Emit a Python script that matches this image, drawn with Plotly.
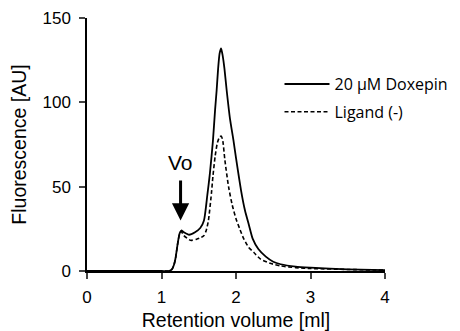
import plotly.graph_objects as go

# Retention volume (ml) and fluorescence (AU)
doxepin_x = [0, 0.5, 1.0, 1.1, 1.14, 1.17, 1.19, 1.22, 1.245, 1.265, 1.3, 1.37, 1.45, 1.52, 1.57,
             1.615, 1.65, 1.69, 1.72, 1.74, 1.76, 1.78, 1.8, 1.82, 1.845, 1.875, 1.92, 1.965,
             2.0, 2.067, 2.12, 2.175, 2.225, 2.3, 2.4, 2.5, 2.6, 2.8, 3.0, 3.5, 4.0]
doxepin_y = [0, 0, 0, 0, 1, 4, 8, 17, 22.5, 24, 23, 21.5, 23, 25.5, 30,
             45, 58, 77, 96, 107, 120, 129, 132, 128, 120, 107, 90, 77.7,
             67, 48, 36, 27, 19, 13, 8.5, 5.5, 4, 2.6, 2, 1, 0.5]

ligand_x = [0, 0.5, 1.0, 1.1, 1.14, 1.17, 1.19, 1.22, 1.245, 1.265, 1.3, 1.39, 1.47, 1.53, 1.57,
            1.6, 1.63, 1.67, 1.69, 1.72, 1.75, 1.78, 1.8, 1.82, 1.85, 1.9, 1.95, 2.0, 2.05,
            2.1, 2.17, 2.24, 2.33, 2.47, 2.6, 2.8, 3.0, 3.5, 4.0]
ligand_y = [0, 0, 0, 0, 1, 4, 8, 17, 22.5, 23.5, 21, 18.2, 18.8, 19.8, 21,
            24, 30, 46, 56, 68, 76, 79.5, 80, 78, 66, 50, 39, 31, 25,
            19.5, 14, 11, 7, 4.4, 3, 2, 1.5, 0.9, 0.5]

series_names = ["20 \u03bcM Doxepin", "Ligand (-)"]
x_ticks = [0, 1, 2, 3, 4]
y_ticks = [0, 50, 100, 150]

font_main = "Liberation Sans, Arial, sans-serif"

fig = go.Figure()
fig.add_trace(go.Scatter(x=doxepin_x, y=doxepin_y, mode="lines", name=series_names[0],
                         legendgroup="a",
                         line=dict(color="black", width=1.8, shape="spline", smoothing=0.6)))
fig.add_trace(go.Scatter(x=ligand_x, y=ligand_y, mode="lines", name=series_names[1],
                         legendgroup="b",
                         line=dict(color="black", width=1.6, dash="4px,2.5px",
                                   shape="spline", smoothing=0.6)))

fig.add_annotation(x=1.256, y=30, xref="x", yref="y", text="Vo", showarrow=True,
                   ax=0, ay=-44, yanchor="bottom", arrowhead=2, arrowsize=1.15,
                   arrowwidth=3, arrowcolor="black", standoff=0, startstandoff=4,
                   font=dict(family=font_main, size=21, color="black"))

FIG_W = 480
fig.update_layout(
    width=FIG_W, height=323,
    margin=dict(l=79, r=FIG_W - 377, t=10, b=60),
    paper_bgcolor="white", plot_bgcolor="white",
    font=dict(family=font_main, size=17, color="black"),
    showlegend=True,
    legend=dict(x=0.646, y=0.806, xref="paper", yref="paper",
                xanchor="left", yanchor="top", itemwidth=45,
                traceorder="grouped", tracegroupgap=4,
                font=dict(family="Open Sans, Liberation Sans, sans-serif", size=16, color="black"),
                bgcolor="rgba(0,0,0,0)"),
    xaxis=dict(range=[0, 4], tickvals=x_ticks, ticks="outside", ticklen=6, tickwidth=1.5,
               showline=True, linecolor="black", linewidth=1.5, showgrid=False, zeroline=False,
               automargin=False, ticklabelstandoff=4,
               title=dict(text="Retention volume [ml]", font=dict(size=19.5), standoff=17),
               tickfont=dict(size=17)),
    yaxis=dict(range=[0, 150], tickvals=y_ticks, ticks="outside", ticklen=6, tickwidth=1.5,
               showline=True, linecolor="black", linewidth=1.5, showgrid=False, zeroline=False,
               automargin=False, ticklabelstandoff=5,
               title=dict(text="Fluorescence [AU]", font=dict(size=19.5), standoff=12),
               tickfont=dict(size=17)),
)

fig.write_html("out.html")
